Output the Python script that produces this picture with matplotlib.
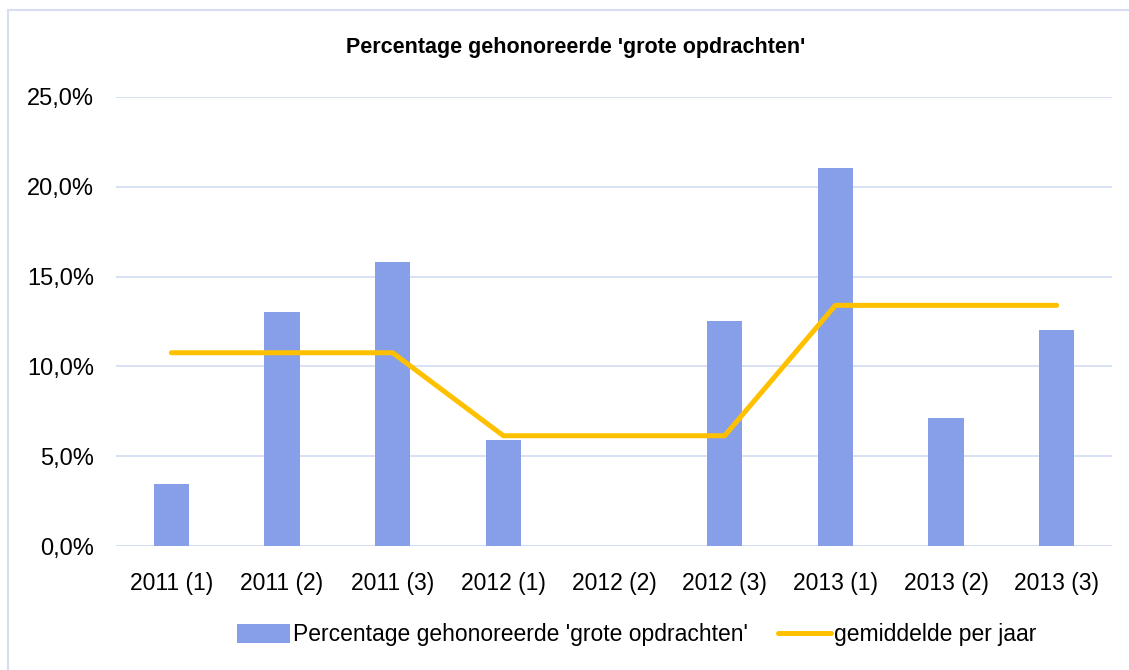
import matplotlib.pyplot as plt
from matplotlib.patches import Rectangle
from matplotlib.ticker import FuncFormatter

categories = ['2011 (1)', '2011 (2)', '2011 (3)', '2012 (1)', '2012 (2)',
              '2012 (3)', '2013 (1)', '2013 (2)', '2013 (3)']
percentages = [3.45, 13.03, 15.8, 5.9, 0.0, 12.53, 21.05, 7.13, 12.03]
year_avg = [10.76, 10.76, 10.76, 6.14, 6.14, 6.14, 13.4, 13.4, 13.4]

bar_color = '#879EE8'
line_color = '#FFC000'
grid_color = '#D6DEF3'

plt.rcParams['font.family'] = ['Liberation Sans', 'DejaVu Sans']

fig = plt.figure(figsize=(11.29, 6.70), dpi=100)
ax = fig.add_axes([116 / 1129, 1 - 546 / 670, (1112 - 116) / 1129, (546 - 97) / 670])

x = range(len(categories))
bars = ax.bar(x, percentages, width=0.32, color=bar_color, zorder=2,
              label="Percentage gehonoreerde 'grote opdrachten'")
line, = ax.plot(x, year_avg, color=line_color, linewidth=3.6, zorder=3,
                solid_capstyle='round', label='gemiddelde per jaar')

ax.set_ylim(0, 25)
ax.set_xlim(-0.5, len(categories) - 0.5)
ax.set_yticks([0, 5, 10, 15, 20, 25])
ax.yaxis.set_major_formatter(FuncFormatter(lambda v, p: f'{v:.1f}%'.replace('.', ',')))
ax.set_xticks(list(x))
ax.set_xticklabels(categories)
ax.tick_params(axis='x', length=0, labelsize=16.5, colors='black', pad=19)
ax.tick_params(axis='y', length=0, labelsize=17, colors='black', pad=16)
ax.grid(axis='y', color=grid_color, linewidth=1.3, zorder=0)
for s in ax.spines.values():
    s.set_visible(False)
ax.axhline(0, color=grid_color, linewidth=1.3, zorder=1)

fig.text(576 / 1129, 1 - 47 / 670, "Percentage gehonoreerde 'grote opdrachten'",
         ha='center', va='center', fontsize=15.5, fontweight='bold')

leg = fig.legend([bars, line], [bars.get_label(), line.get_label()],
                 loc='center', bbox_to_anchor=(637 / 1129, 1 - 635 / 670), ncol=2,
                 frameon=False, fontsize=16.5, handlelength=2.3, handleheight=0.9,
                 columnspacing=1.3, handletextpad=0.15)

# chart border (left and top edges visible)
fig.patches.append(Rectangle((8 / 1129, -0.1), 1.2, 1 - 10 / 670 + 0.1,
                             transform=fig.transFigure, fill=False,
                             edgecolor=grid_color, linewidth=1.5))

fig.savefig('out.png', dpi=100)
